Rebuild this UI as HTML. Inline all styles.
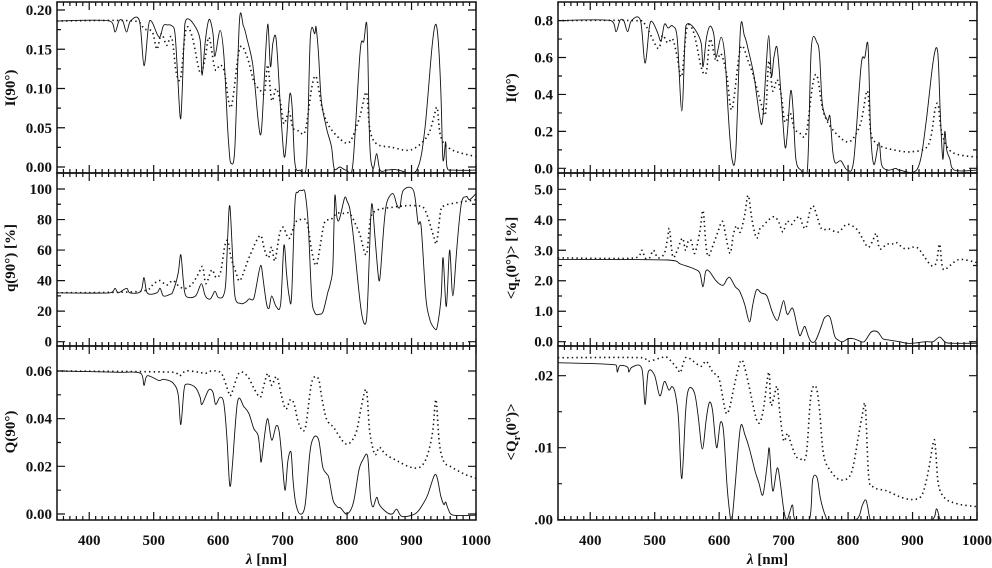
<!DOCTYPE html>
<html><head><meta charset="utf-8"><style>
body{margin:0;background:#fff;}
svg{display:block;font-family:"Liberation Serif","Times New Roman",serif;}
.tl{font-family:"Liberation Serif","Times New Roman",serif;font-size:15px;font-weight:bold;fill:#111;}
.yt{font-family:"Liberation Serif","Times New Roman",serif;font-size:15px;font-weight:bold;fill:#111;}
</style></head><body>
<svg id="chart" width="992" height="568" viewBox="0 0 992 568" xmlns="http://www.w3.org/2000/svg"></svg>
<script>
const xTicks=[400,500,600,700,800,900,1000];
const tlTicks=[0,0.05,0.10,0.15,0.20], tlLabels=["0.00","0.05","0.10","0.15","0.20"];
const mlTicks=[0,20,40,60,80,100], mlLabels=["0","20","40","60","80","100"];
const blTicks=[0,0.02,0.04,0.06], blLabels=["0.00","0.02","0.04","0.06"];
const trTicks=[0,0.2,0.4,0.6,0.8], trLabels=["0.0","0.2","0.4","0.6","0.8"];
const mrTicks=[0,1,2,3,4,5], mrLabels=["0.0","1.0","2.0","3.0","4.0","5.0"];
const brTicks=[0,0.01,0.02], brLabels=[".00",".01",".02"];

const I90_solid=[[350,.186],[432,.186],[440,.172],[446,.186],[452,.186],[458,.172],[464,.186],[478,.186],[485,.129],[492,.18],[497,.185],[505,.17],[510,.166],[515,.18],[521,.181],[528,.18],[533,.17],[537,.12],[542,.062],[547,.16],[550,.187],[561,.183],[572,.162],[575,.117],[580,.16],[586,.188],[592,.17],[595,.141],[603,.174],[609,.14],[614,.06],[617,.022],[620,.005],[626,.026],[633,.185],[639,.18],[644,.166],[654,.128],[662,.06],[667,.045],[672,.12],[677,.182],[681,.128],[685,.158],[690,.162],[696,.085],[702,.015],[706,.034],[711,.092],[715,.073],[719,.005],[727,-.004],[737,.005],[743,.164],[750,.17],[752,.178],[756,.14],[760,.085],[768,.05],[776,.025],[780,-.002],[789,0],[799,-.004],[809,.004],[820,.145],[826,.16],[831,.177],[835,.034],[840,-.002],[846,.017],[851,-.004],[862,-.004],[874,-.003],[880,-.004],[908,-.004],[921,.051],[932,.155],[939,.179],[945,.107],[948,.02],[950,.01],[953,.032],[955,0],[965,-.004],[1000,-.004]];
const I90_dotted=[[350,.186],[470,.186],[485,.176],[498,.172],[505,.15],[512,.17],[520,.155],[528,.165],[535,.12],[542,.115],[550,.175],[560,.165],[572,.12],[580,.14],[586,.165],[595,.125],[603,.13],[610,.12],[620,.076],[633,.15],[645,.14],[655,.11],[665,.098],[672,.095],[677,.13],[683,.085],[690,.1],[697,.08],[702,.055],[710,.07],[716,.05],[725,.046],[735,.046],[745,.1],[752,.115],[760,.08],[770,.055],[790,.035],[805,.033],[820,.065],[830,.095],[835,.05],[845,.03],[870,.025],[900,.022],[925,.04],[935,.065],[940,.075],[945,.04],[960,.023],[1000,.013]];
const q90_solid=[[350,32],[432,32],[440,35],[445,32],[458,35],[463,32],[480,33],[485,42],[490,32],[505,32],[510,35],[515,30],[525,31],[530,33],[538,45],[542,57],[546,40],[550,30],[565,30],[574,38],[580,30],[588,28],[595,33],[600,29],[608,30],[612,40],[615,70],[618,89],[622,60],[626,30],[635,25],[643,26],[648,28],[655,28],[660,38],[666,50],[670,40],[675,25],[679,22],[683,30],[690,23],[697,25],[702,63],[706,45],[710,30],[714,30],[719,90],[724,98],[730,99],[735,97],[740,75],[745,30],[750,19],[757,18],[763,20],[770,32],[774,38],[778,50],[781,95],[784,82],[788,80],[796,94],[800,92],[805,85],[812,60],[822,20],[830,14],[834,50],[838,90],[843,70],[848,45],[851,42],[856,70],[861,90],[871,97],[877,90],[882,88],[887,99],[903,99],[910,78],[915,75],[922,30],[928,15],[935,9],[940,10],[946,30],[949,55],[954,23],[959,60],[964,30],[970,60],[977,90],[985,95],[990,93],[1000,97]];
const q90_dotted=[[350,32],[480,33],[500,38],[510,40],[520,37],[530,40],[540,36],[550,35],[560,38],[570,45],[576,49],[581,38],[590,47],[597,42],[604,46],[610,62],[615,66],[620,55],[628,45],[634,40],[645,52],[655,62],[662,68],[667,69],[672,60],[678,55],[683,62],[688,53],[695,70],[701,75],[706,70],[711,68],[720,78],[729,80],[738,78],[745,60],[752,50],[758,62],[765,78],[775,80],[784,84],[795,84],[804,84],[812,78],[820,70],[830,57],[836,80],[846,86],[870,88],[890,89],[908,89],[920,87],[930,75],[935,68],[939,65],[945,85],[950,89],[970,91],[985,92],[1000,93]];
const Q90_solid=[[350,.06],[440,.0595],[480,.059],[485,.054],[490,.058],[508,.056],[515,.0565],[530,.055],[538,.05],[542,.0375],[547,.052],[552,.0545],[565,.053],[572,.049],[575,.046],[585,.052],[592,.051],[596,.046],[603,.049],[609,.046],[614,.03],[618,.012],[622,.02],[630,.047],[640,.045],[648,.042],[655,.036],[662,.033],[665,.026],[667,.022],[672,.033],[677,.04],[683,.031],[690,.037],[695,.034],[700,.02],[704,.01],[708,.022],[713,.026],[716,.015],[720,.005],[727,0],[735,.004],[742,.025],[748,.032],[756,.031],[762,.02],[768,.017],[772,.015],[778,.006],[785,.003],[790,.0025],[800,0],[810,.005],[818,.018],[825,.023],[832,.024],[836,.008],[840,.003],[846,.007],[850,.004],[860,.001],[870,0],[877,.002],[885,-.001],[905,0],[915,.003],[925,.008],[935,.016],[940,.015],[945,.008],[950,.004],[953,.005],[957,.002],[965,-.0005],[1000,-.0005]];
const Q90_dotted=[[350,.06],[530,.0595],[540,.058],[550,.06],[570,.0595],[580,.059],[590,.06],[605,.059],[615,.052],[620,.05],[632,.059],[645,.058],[655,.053],[665,.049],[670,.053],[677,.059],[683,.054],[688,.057],[692,.057],[698,.05],[705,.044],[712,.048],[718,.046],[725,.038],[735,.036],[745,.055],[755,.057],[760,.05],[768,.04],[780,.036],[795,.03],[805,.03],[815,.035],[822,.045],[830,.052],[835,.035],[843,.025],[850,.028],[860,.025],[880,.022],[900,.0195],[915,.02],[925,.025],[933,.035],[938,.048],[943,.03],[950,.022],[960,.02],[980,.017],[1000,.015]];
const I0_solid=[[350,.8],[432,.8],[440,.74],[446,.8],[452,.8],[458,.74],[464,.8],[478,.8],[485,.57],[492,.77],[497,.79],[505,.73],[510,.69],[515,.78],[521,.76],[528,.77],[535,.7],[542,.31],[547,.7],[550,.78],[561,.76],[572,.68],[575,.55],[580,.7],[586,.77],[592,.72],[595,.6],[603,.71],[609,.6],[614,.3],[620,.05],[626,.1],[633,.75],[639,.72],[644,.66],[654,.5],[662,.3],[667,.25],[672,.5],[677,.72],[681,.5],[685,.6],[690,.65],[696,.4],[702,.12],[706,.2],[711,.42],[715,.3],[719,.05],[727,-.01],[737,0],[743,.65],[752,.68],[756,.6],[760,.35],[768,.26],[772,.28],[776,.1],[780,.03],[789,.04],[799,-.01],[809,.05],[820,.55],[826,.6],[831,.66],[835,.2],[840,.02],[848,.14],[852,.02],[862,-.01],[874,0],[880,-.01],[908,0],[921,.25],[932,.58],[939,.63],[943,.3],[947,.05],[950,.2],[953,.1],[958,.05],[965,-.01],[1000,-.01]];
const I0_dotted=[[350,.8],[470,.8],[485,.78],[505,.65],[512,.72],[520,.68],[528,.7],[535,.6],[542,.5],[550,.76],[561,.73],[572,.55],[580,.52],[586,.7],[595,.58],[603,.62],[612,.5],[620,.32],[633,.65],[645,.58],[655,.48],[665,.35],[672,.3],[677,.58],[683,.42],[690,.48],[697,.38],[702,.25],[710,.3],[716,.22],[725,.19],[735,.19],[745,.45],[752,.5],[760,.33],[770,.24],[790,.16],[805,.15],[820,.25],[830,.42],[835,.2],[842,.14],[850,.12],[870,.1],[900,.09],[925,.13],[935,.32],[940,.34],[945,.2],[960,.09],[1000,.06]];
const qr0_solid=[[350,2.7],[521,2.68],[540,2.55],[560,2.4],[570,2.25],[575,1.8],[579,2.3],[585,2.3],[595,2.0],[606,1.85],[612,2.05],[617,2.1],[625,1.8],[632,1.65],[640,1.2],[647,.65],[652,1.2],[658,1.7],[665,1.6],[674,1.5],[682,1.0],[690,.7],[695,1.0],[700,1.35],[704,1.0],[707,.9],[714,1.1],[720,.6],[725,.2],[729,.35],[733,.5],[738,.2],[743,0],[750,.05],[760,.6],[764,.8],[772,.8],[779,.2],[785,.05],[792,0],[800,.1],[808,.1],[815,.05],[825,0],[835,.3],[841,.35],[847,.3],[854,.1],[865,.05],[880,0],[890,-.05],[901,-.05],[920,0],[932,0],[942,.15],[950,0],[960,-.05],[1000,-.05]];
const qr0_dotted=[[350,2.75],[470,2.75],[480,3.0],[485,2.75],[492,2.75],[498,3.0],[505,2.75],[515,2.9],[520,3.4],[523,3.7],[528,2.8],[535,3.0],[543,3.4],[548,3.0],[552,3.3],[557,3.3],[562,2.9],[570,3.6],[575,4.3],[579,3.3],[583,2.8],[591,3.2],[598,3.6],[605,3.95],[610,3.5],[617,2.9],[622,3.5],[627,3.8],[633,3.6],[640,4.2],[645,4.8],[651,4.0],[658,3.4],[663,3.7],[668,3.8],[677,4.0],[686,4.1],[693,3.9],[699,3.6],[705,3.95],[712,3.85],[718,4.0],[725,4.1],[730,3.8],[735,3.75],[741,4.3],[746,4.45],[752,4.1],[759,3.7],[770,3.7],[785,3.6],[798,3.85],[813,3.7],[822,3.4],[831,3.1],[838,3.3],[844,3.55],[849,3.05],[860,3.2],[868,3.2],[875,3.25],[888,3.05],[906,3.1],[918,2.8],[929,2.5],[937,2.6],[942,3.2],[947,2.4],[958,2.5],[973,2.7],[999,2.6]];
const Qr0_solid=[[350,.0218],[440,.0215],[442,.0205],[446,.0214],[458,.0212],[460,.0205],[465,.0212],[480,.021],[485,.016],[490,.0205],[500,.02],[508,.0172],[515,.0192],[522,.018],[527,.0185],[532,.0175],[537,.014],[542,.0057],[548,.015],[553,.0182],[562,.0175],[568,.014],[574,.0098],[580,.014],[585,.0163],[590,.015],[596,.01],[602,.0135],[607,.012],[612,.005],[617,.0005],[620,0],[625,.005],[633,.0128],[640,.0118],[648,.0095],[655,.007],[662,.005],[668,.0035],[675,.008],[678,.0098],[683,.004],[690,.0072],[695,.005],[700,.0015],[705,0],[710,.0012],[714,.002],[718,0],[740,0],[745,.0055],[752,.0058],[757,.003],[765,.0005],[772,0],[812,0],[822,.002],[828,.0027],[833,.0005],[836,0],[930,0],[937,.0015],[941,.0005],[944,0],[1000,0]];
const Qr0_dotted=[[350,.0225],[480,.0225],[490,.022],[510,.0225],[520,.0225],[535,.021],[540,.0205],[548,.0225],[560,.022],[572,.0213],[580,.022],[590,.0205],[600,.0195],[610,.015],[616,.0155],[622,.018],[633,.022],[640,.021],[650,.017],[660,.0135],[668,.015],[677,.0205],[680,.016],[685,.017],[690,.0185],[694,.015],[700,.011],[706,.012],[710,.011],[718,.009],[725,.0085],[735,.009],[742,.017],[750,.0185],[756,.015],[762,.009],[775,.0065],[790,.0055],[805,.0065],[815,.011],[823,.015],[827,.0155],[832,.006],[840,.0045],[860,.004],[880,.0032],[900,.0028],[915,.0035],[925,.007],[933,.011],[936,.0095],[940,.005],[950,.003],[970,.0022],[1000,.0018]];

const NS="http://www.w3.org/2000/svg";
const svg=document.getElementById('chart');
function mk(tag,attrs,parent){const e=document.createElementNS(NS,tag);for(const k in attrs)e.setAttribute(k,attrs[k]);(parent||svg).appendChild(e);return e;}
function smooth(pts){
  let d='M'+pts[0][0].toFixed(1)+' '+pts[0][1].toFixed(1);
  const t=0.35;
  for(let i=0;i<pts.length-1;i++){
    const p0=pts[Math.max(0,i-1)],p1=pts[i],p2=pts[i+1],p3=pts[Math.min(pts.length-1,i+2)];
    const c1x=p1[0]+(p2[0]-p0[0])*t/2*0.9,c1y=p1[1]+(p2[1]-p0[1])*t/2;
    const c2x=p2[0]-(p3[0]-p1[0])*t/2*0.9,c2y=p2[1]-(p3[1]-p1[1])*t/2;
    const cx1=Math.min(Math.max(c1x,p1[0]),p2[0]),cx2=Math.min(Math.max(c2x,p1[0]),p2[0]);
    d+=` C${cx1.toFixed(1)} ${c1y.toFixed(1)} ${cx2.toFixed(1)} ${c2y.toFixed(1)} ${p2[0].toFixed(1)} ${p2[1].toFixed(1)}`;
  }
  return d;
}
let clipN=0;
function panel(name,x0,x1,y0,y1,v0,v1,vAt0,vAt1,ticks,labels,minorStep,series,title,titleY,showX){
  const g=mk('g',{});
  
  
  const sx=nm=>x0+(nm-350)/(650)*(x1-x0);
  const sy=v=>vAt0+(v-v0)/(v1-v0)*(vAt1-vAt0);
  const id='c'+(clipN++);
  const cp=mk('clipPath',{id:id},g);mk('rect',{x:x0,y:y0,width:x1-x0,height:y1-y0},cp);
  const sg=mk('g',{'clip-path':'url(#'+id+')'},g);
  series.forEach((s,i)=>{
    const d=smooth(s.data.map(p=>[sx(p[0]),sy(p[1])]));
    const p=mk('path',{d:d,fill:'none',stroke:'#111','stroke-width':s.dot?1.6:0.9,'stroke-dasharray':s.dot?'1.4 3.2':'none','stroke-linejoin':'round'},sg);
    
    
  });
  const fr=mk('rect',{x:x0,y:y0,width:x1-x0,height:y1-y0,fill:'none',stroke:'#111','stroke-width':1.5},g);
  
  
  let td='';
  for(let nm=350;nm<=1000;nm+=10){const L=(nm%100===0)?8:4;const X=sx(nm);td+=`M${X} ${y1}v${-L}M${X} ${y0}v${L}`;}
  const vmax=Math.max(v0,v1);
  for(let k=Math.ceil(ticks[0]/minorStep-1e-6);;k++){const v=k*minorStep;if(v>vmax+1e-9)break;const Y=sy(v);if(Y<y0||Y>y1)continue;
    const major=ticks.some(t=>Math.abs(t-v)<minorStep*0.01);const L=major?8:4;td+=`M${x0} ${Y}h${L}M${x1} ${Y}h${-L}`;}
  const tp=mk('path',{d:td,stroke:'#111','stroke-width':1.2,fill:'none'},g);
  
  
  ticks.forEach((t,i)=>{const tx=mk('text',{x:x0-5,y:sy(t)+5,'text-anchor':'end',class:'tl'},g);tx.textContent=labels[i];
    
    });
  if(showX){xTicks.forEach(t=>{const tx=mk('text',{x:sx(t),y:y1+25,'text-anchor':'middle',class:'tl'},g);tx.textContent=String(t);
    
    });
    const xl=mk('text',{x:(x0+x1)/2,y:y1+44,'text-anchor':'middle',class:'yt'},g);
    xl.innerHTML='<tspan font-style="italic">λ</tspan> [nm]';
    
    }
  const tt=mk('text',{x:0,y:0,'text-anchor':'middle',class:'yt',transform:`translate(${x0-42},${titleY}) rotate(-90)`},g);
  tt.innerHTML=title;
  
  
}
panel('intensity-90',57,476,2,173,0,0.2,167,10,tlTicks,tlLabels,0.025,[{data:I90_solid},{data:I90_dotted,dot:1}],'I(90°)',88,false);
panel('polarization-90',57,476,173,346,0,100,341.7,189,mlTicks,mlLabels,10,[{data:q90_solid},{data:q90_dotted,dot:1}],'q(90°) [%]',258,false);
panel('stokes-q-90',57,476,346,520,0,0.06,514,371,blTicks,blLabels,0.01,[{data:Q90_solid},{data:Q90_dotted,dot:1}],'Q(90°)',432,true);
panel('intensity-0',558,977,2,173,0,0.8,168.3,20.6,trTicks,trLabels,0.1,[{data:I0_solid},{data:I0_dotted,dot:1}],'I(0°)',88,false);
panel('polarization-0',558,977,173,346,0,5,341.7,189.3,mrTicks,mrLabels,0.5,[{data:qr0_solid},{data:qr0_dotted,dot:1}],'&lt;q<tspan font-size="11" dy="4">r</tspan><tspan dy="-4">(0°)&gt; [%]</tspan>',258,false);
panel('stokes-q-0',558,977,346,520,0,0.02,519.7,375.7,brTicks,brLabels,0.005,[{data:Qr0_solid},{data:Qr0_dotted,dot:1}],'&lt;Q<tspan font-size="11" dy="4">r</tspan><tspan dy="-4">(0°)&gt;</tspan>',432,true);
</script>
</body></html>
